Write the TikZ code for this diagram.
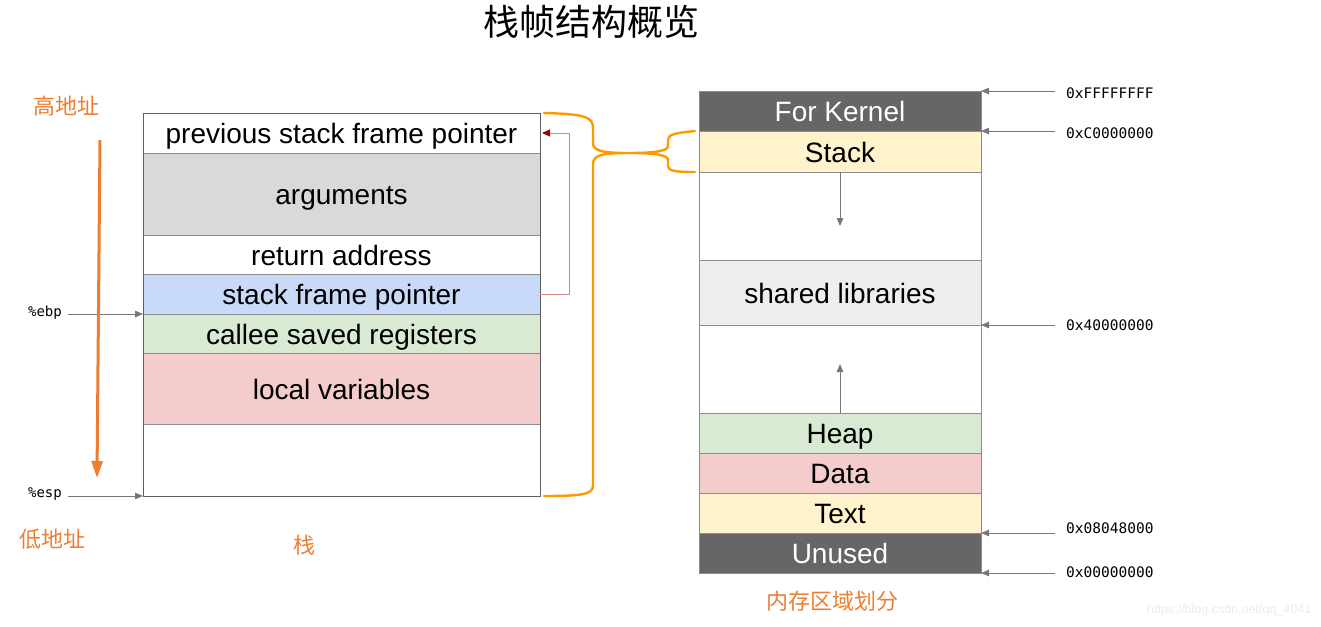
\documentclass[tikz,border=0pt]{standalone}
\usepackage{fontspec}
\setmainfont{Liberation Sans}
\newfontfamily\cjk{Noto Sans CJK SC}
\newfontfamily\mono{DejaVu Sans Mono}
\usetikzlibrary{arrows.meta,calc}
\definecolor{cgray}{HTML}{D9D9D9}
\definecolor{cblue}{HTML}{C9DAF8}
\definecolor{cgreen}{HTML}{D9EAD3}
\definecolor{cpink}{HTML}{F4CCCC}
\definecolor{cyellow}{HTML}{FFF2CC}
\definecolor{cdark}{HTML}{666666}
\definecolor{clight}{HTML}{EEEEEE}
\definecolor{cborder}{HTML}{8C8C8C}
\definecolor{corange}{HTML}{ED7D31}
\definecolor{cbrace}{HTML}{FF9900}
\definecolor{cred}{HTML}{D98585}
\definecolor{cdred}{HTML}{990000}
\definecolor{carrow}{HTML}{5F5F5F}
\tikzset{
  cellbase/.style={draw=cborder, line width=0.8pt, inner sep=0pt, outer sep=0pt, text height=21pt, text depth=0pt, font=\fontsize{28}{32}\selectfont},
  lcell/.style={cellbase, minimum width=397pt},
  rcell/.style={cellbase, minimum width=282pt},
  addr/.style={anchor=west, inner sep=0pt, font=\mono\fontsize{14.5}{16}\selectfont},
  reg/.style={inner sep=0pt, font=\mono\fontsize{14}{16}\selectfont},
  garrow/.style={draw=carrow!85, line width=0.8pt, -{Triangle[length=8pt,width=6.5pt]}},
  cjklab/.style={inner sep=0pt, text=corange, font=\cjk\fontsize{22}{26}\selectfont},
  bracestyle/.style={draw=cbrace, line width=2.4pt, line cap=round, line join=round},
}
\begin{document}
\begin{tikzpicture}[x=1pt,y=-1pt]
\useasboundingbox (0,0) rectangle (1321,626);
% title
\node[inner sep=0pt, font=\cjk\fontsize{36}{40}\selectfont] (title) at (591,22) {栈帧结构概览};
% left stack
\node[lcell, fill=white, minimum height=40pt] (L1) at (341.5,133) {previous stack frame pointer};
\node[lcell, fill=cgray, minimum height=82pt] (L2) at (341.5,194) {arguments};
\node[lcell, fill=white, minimum height=39pt] (L3) at (341.5,254.5) {return address};
\node[lcell, fill=cblue, minimum height=40pt] (L4) at (341.5,294) {stack frame pointer};
\node[lcell, fill=cgreen, minimum height=39pt] (L5) at (341.5,333.5) {callee saved registers};
\node[lcell, fill=cpink, minimum height=71pt] (L6) at (341.5,388.5) {local variables};
\node[lcell, fill=white, minimum height=72pt] (L7) at (341.5,460) {};
\draw[draw=carrow, line width=0.9pt] (L1.north west) rectangle (L7.south east);
% right memory map
\node[rcell, fill=cdark, text=white, minimum height=40pt] (R1) at (840,111) {For Kernel};
\node[rcell, fill=cyellow, minimum height=41pt] (R2) at (840,151.5) {Stack};
\node[rcell, fill=white, minimum height=88pt] (R3) at (840,216) {};
\node[rcell, fill=clight, minimum height=65pt] (R4) at (840,292.5) {shared libraries};
\node[rcell, fill=white, minimum height=88pt] (R5) at (840,369) {};
\node[rcell, fill=cgreen, minimum height=40pt] (R6) at (840,433) {Heap};
\node[rcell, fill=cpink, minimum height=40pt] (R7) at (840,473) {Data};
\node[rcell, fill=cyellow, minimum height=40pt] (R8) at (840,513) {Text};
\node[rcell, fill=cdark, text=white, minimum height=40pt] (R9) at (840,553) {Unused};
% growth arrows
\coordinate (sdown) at (840,226);
\coordinate (hup) at (840,364);
\draw[garrow] (R2.south) -- (sdown);
\draw[garrow] (R6.north) -- (hup);
% address labels
\node[addr] (a1) at (1066,93) {0xFFFFFFFF};
\node[addr] (a2) at (1066,133) {0xC0000000};
\node[addr] (a3) at (1066,325) {0x40000000};
\node[addr] (a4) at (1066,528) {0x08048000};
\node[addr] (a5) at (1066,572) {0x00000000};
\draw[garrow] ([xshift=-11pt]a1.west |- R1.north east) -- (R1.north east);
\draw[garrow] ([xshift=-11pt]a2.west |- R2.north east) -- (R2.north east);
\draw[garrow] ([xshift=-11pt]a3.west |- R4.south east) -- (R4.south east);
\draw[garrow] ([xshift=-11pt]a4.west |- R9.north east) -- (R9.north east);
\draw[garrow] ([xshift=-11pt]a5.west |- R9.south east) -- (R9.south east);
% register labels
\node[reg] (ebp) at (45,313) {\%ebp};
\node[reg] (esp) at (45,494) {\%esp};
\draw[garrow] ([xshift=6pt]ebp.east |- L5.north west) -- (L5.north west);
\draw[garrow] ([xshift=6pt]esp.east |- L7.south west) -- (L7.south west);
% high / low address
\node[cjklab] (hi) at (66,106) {高地址};
\node[cjklab] (lo) at (52,539) {低地址};
\coordinate (o1) at (100,140);
\coordinate (o2) at (97,478);
\draw[draw=corange, line width=3pt, -{Triangle[length=17pt,width=11pt]}] (o1) -- (o2);
% captions
\node[cjklab] (cap1) at (304,545) {栈};
\node[cjklab] (cap2) at (832,601) {内存区域划分};
% saved frame pointer link
\draw[draw=cred, line width=1pt, shorten >=2pt, -{Triangle[length=8pt,width=7pt,color=cdred]}] (L4.east) -- ++(29,0) |- (L1.east);
% braces
\coordinate (btip) at (628,153);
\draw[bracestyle] ([xshift=4pt]L1.north east) .. controls (585,114) and (593,117) .. (593,128)
  -- (593,143) .. controls (593,151) and (603,153) .. (btip)
  .. controls (603,153) and (593,155) .. (593,164)
  -- (593,485) .. controls (593,494) and (585,496) .. ([xshift=4pt]L7.south east);
\draw[bracestyle] ([xshift=-4pt]R2.north west) .. controls (676,133) and (668,134) .. (668,140)
  -- (668,146) .. controls (668,151) and (655,153) .. (btip)
  .. controls (655,153) and (668,155) .. (668,160)
  -- (668,166) .. controls (668,171) and (676,172) .. ([xshift=-4pt]R2.south west);
% watermark
\node[anchor=west, inner sep=0pt, text=black!8, font=\fontsize{12.5}{14}\selectfont] (wm) at (1147,610) {https://blog.csdn.net/qq\_4041};
\end{tikzpicture}
\end{document}
